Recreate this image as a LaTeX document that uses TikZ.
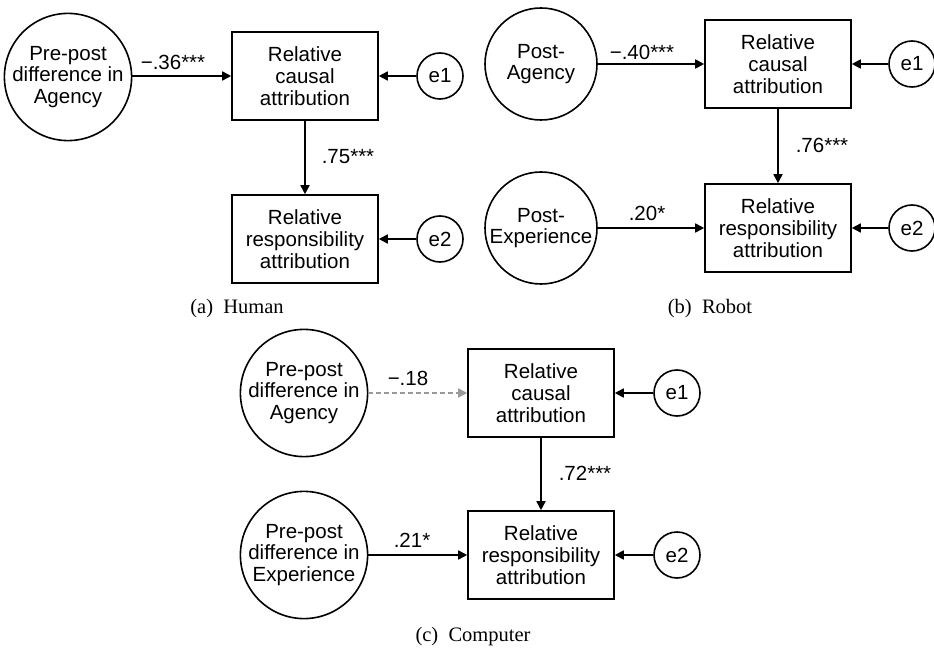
\documentclass[tikz,border=0pt]{standalone}
\usepackage{fontspec}
\setmainfont{Liberation Sans}
\newfontfamily\capfont{Liberation Serif}
\usetikzlibrary{arrows.meta}
\tikzset{
  txt/.style={font=\fontsize{20.5}{21.7}\selectfont, align=center, inner sep=0pt},
  varbox/.style={txt, draw, line width=1.6pt, minimum width=146pt, minimum height=88pt},
  latent/.style={txt, draw, circle, line width=1.6pt, minimum size=112pt},
  errc/.style={txt, draw, circle, line width=1.6pt, minimum size=46pt},
  path/.style={line width=1.7pt, -{Triangle[length=9pt,width=9pt]}},
  nspath/.style={path, draw=black!40, dash pattern=on 5pt off 3pt},
  coef/.style={font=\fontsize{20.5}{21.7}\selectfont, inner sep=0pt},
  capt/.style={font=\capfont\fontsize{20.5}{22}\selectfont, inner sep=0pt}
}
\begin{document}
\begin{tikzpicture}[x=1pt,y=-1pt]
\useasboundingbox (0,0) rectangle (934,652);
% (a) Human
\node[latent] (aA) at (68,77) {Pre-post\\difference in\\Agency};
\node[varbox] (aC) at (305,76) {Relative\\causal\\attribution};
\node[varbox] (aR) at (305,239) {Relative\\responsibility\\attribution};
\node[errc] (ae1) at (440,76) {e1};
\node[errc] (ae2) at (440,239) {e2};
\draw[path] (aA.east |- aC.west) -- (aC.west);
\draw[path] (aC) -- (aR);
\draw[path] (ae1) -- (aC);
\draw[path] (ae2) -- (aR);
\node[coef] (la1) at (173,62) {−.36***};
\node[coef] (la2) at (348,157) {.75***};
\node[capt] (capa) at (237,309) {(a)\enspace Human};
% (b) Robot
\node[latent] (bA) at (541,64) {Post-\\Agency};
\node[latent] (bE) at (541,228) {Post-\\Experience};
\node[varbox] (bC) at (778,64) {Relative\\causal\\attribution};
\node[varbox] (bR) at (778,228) {Relative\\responsibility\\attribution};
\node[errc] (be1) at (912,64) {e1};
\node[errc] (be2) at (912,228) {e2};
\draw[path] (bA) -- (bC);
\draw[path] (bE) -- (bR);
\draw[path] (bC) -- (bR);
\draw[path] (be1) -- (bC);
\draw[path] (be2) -- (bR);
\node[coef] (lb1) at (642,52) {−.40***};
\node[coef] (lb2) at (822,145) {.76***};
\node[coef] (lb3) at (647,213) {.20*};
\node[capt] (capb) at (710,309) {(b)\enspace Robot};
% (c) Computer
\node[latent] (cA) at (304,393) {Pre-post\\difference in\\Agency};
\node[latent] (cE) at (304,555) {Pre-post\\difference in\\Experience};
\node[varbox] (cC) at (541,393) {Relative\\causal\\attribution};
\node[varbox] (cR) at (541,555) {Relative\\responsibility\\attribution};
\node[errc] (ce1) at (677,393) {e1};
\node[errc] (ce2) at (677,555) {e2};
\draw[nspath] (cA) -- (cC);
\draw[path] (cE) -- (cR);
\draw[path] (cC) -- (cR);
\draw[path] (ce1) -- (cC);
\draw[path] (ce2) -- (cR);
\node[coef] (lc1) at (408,378) {−.18};
\node[coef] (lc2) at (585,473) {.72***};
\node[coef] (lc3) at (412,540) {.21*};
\node[capt] (capc) at (473,637) {(c)\enspace Computer};
\end{tikzpicture}
\end{document}
